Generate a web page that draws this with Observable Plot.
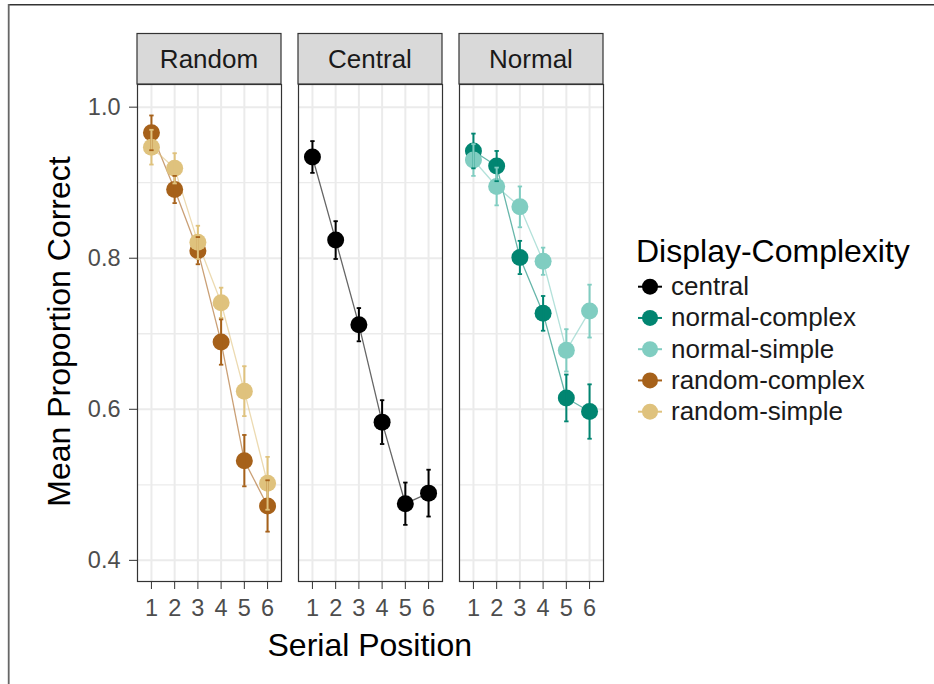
<!DOCTYPE html>
<html><head><meta charset="utf-8">
<script src="https://cdn.jsdelivr.net/npm/d3@7"></script>
<script src="https://cdn.jsdelivr.net/npm/@observablehq/plot@0.6"></script>
<style>
body{margin:0;background:#fff;font-family:"Liberation Sans",Arial,Helvetica,sans-serif;}
#root{position:relative;width:934px;height:684px;overflow:hidden;background:#fff;}
#root > svg{position:absolute;left:0;top:0;}
#root svg.main-chart g[aria-label$="tick label"]{font-size:23.5px !important;}
#root svg.main-chart g[aria-label$="tick label"] text{font-size:23.5px !important;}
</style></head><body><div id="root"></div>
<script>
// ---- data ----
const panels = ["Random", "Central", "Normal"];
const positions = [1, 2, 3, 4, 5, 6];
const yTicks = [0.4, 0.6, 0.8, 1.0];
const yMinorTicks = [0.5, 0.7, 0.9];
const seriesNames = ["central", "normal-complex", "normal-simple", "random-complex", "random-simple"];
const seriesPanels = ["Central", "Normal", "Normal", "Random", "Random"];
const seriesColors = ["#000000", "#018571", "#80CDC1", "#A6611A", "#DFC27D"];

const centralMean = [0.934, 0.824, 0.712, 0.583, 0.475, 0.489];
const centralSE = [0.021, 0.025, 0.022, 0.029, 0.028, 0.031];
const normalComplexMean = [0.942, 0.922, 0.801, 0.727, 0.615, 0.597];
const normalComplexSE = [0.023, 0.020, 0.022, 0.023, 0.031, 0.036];
const normalSimpleMean = [0.930, 0.895, 0.868, 0.796, 0.678, 0.730];
const normalSimpleSE = [0.021, 0.025, 0.027, 0.018, 0.028, 0.035];
const randomComplexMean = [0.966, 0.891, 0.810, 0.689, 0.532, 0.472];
const randomComplexSE = [0.023, 0.018, 0.018, 0.030, 0.034, 0.034];
const randomSimpleMean = [0.947, 0.919, 0.821, 0.741, 0.624, 0.502];
const randomSimpleSE = [0.023, 0.020, 0.022, 0.020, 0.033, 0.035];

const seriesMeans = [centralMean, normalComplexMean, normalSimpleMean, randomComplexMean, randomSimpleMean];
const seriesSE = [centralSE, normalComplexSE, normalSimpleSE, randomComplexSE, randomSimpleSE];

const rows = seriesNames.flatMap((s, i) => positions.map((p, j) => ({
  series: s, panel: seriesPanels[i], pos: p, mean: seriesMeans[i][j], se: seriesSE[i][j]
})));

const FONT = '"Liberation Sans", Arial, Helvetica, sans-serif';
const hline = {draw(ctx, size) { const w = Math.sqrt(size / Math.PI); ctx.moveTo(-w, 0); ctx.lineTo(w, 0); }};

const chart = Plot.plot({
  width: 620, height: 684,
  marginLeft: 136, marginRight: 16.5, marginTop: 84, marginBottom: 103,
  className: "main-chart",
  style: {fontFamily: FONT, fontSize: "23.5px", background: "transparent", color: "#4d4d4d"},
  fx: {domain: panels, paddingInner: 0.1035, paddingOuter: 0, axis: null, label: null},
  x: {domain: [0.4, 6.6], label: null},
  y: {domain: [0.372, 1.030], label: null},
  color: {domain: seriesNames, range: seriesColors},
  marks: [
    Plot.gridY(yMinorTicks, {stroke: "#ebebeb", strokeOpacity: 1, strokeWidth: 1.3}),
    Plot.gridY(yTicks, {stroke: "#ebebeb", strokeOpacity: 1, strokeWidth: 2}),
    Plot.gridX(positions, {stroke: "#ebebeb", strokeOpacity: 1, strokeWidth: 2}),
    Plot.axisY(yTicks, {tickFormat: d3.format(".1f"), tickSize: 8, tickPadding: 9, stroke: "#333", fill: "#4d4d4d", label: null, fontSize: 23.5}),
    Plot.axisX(positions, {tickFormat: d => String(d), tickSize: 8, tickPadding: 10, stroke: "#333", fill: "#4d4d4d", label: null, fontSize: 23.5}),
    Plot.line(rows, {fx: "panel", x: "pos", y: "mean", z: "series", stroke: "series", strokeWidth: 1.3, strokeOpacity: 0.6}),
    Plot.dot(rows, {fx: "panel", x: "pos", y: "mean", fill: "series", r: 8.5}),
    Plot.ruleX(rows, {fx: "panel", x: "pos", y1: d => d.mean - d.se, y2: d => d.mean + d.se, stroke: "series", strokeWidth: 2}),
    Plot.dot(rows, {fx: "panel", x: "pos", y: d => d.mean - d.se, stroke: "series", fill: "none", symbol: hline, r: 2.2, strokeWidth: 1.8}),
    Plot.dot(rows, {fx: "panel", x: "pos", y: d => d.mean + d.se, stroke: "series", fill: "none", symbol: hline, r: 2.2, strokeWidth: 1.8}),
    Plot.frame({stroke: "#333", strokeWidth: 1.2})
  ]
});

const root = document.getElementById("root");
root.appendChild(chart);

// overlay: strips, titles, legend, outer frame
const ov = d3.create("svg").attr("width", 934).attr("height", 684)
  .style("font-family", FONT).style("pointer-events", "none");

// outer frame (top & left edges)
ov.append("line").attr("x1", 8).attr("x2", 934).attr("y1", 4.7).attr("y2", 4.7).attr("stroke", "#333").attr("stroke-width", 1.6);
ov.append("line").attr("x1", 8.7).attr("x2", 8.7).attr("y1", 4).attr("y2", 684).attr("stroke", "#666").attr("stroke-width", 1.8);

// strips
const fxs = chart.scale("fx");
panels.forEach((p, i) => {
  const left = fxs.apply ? fxs.apply(p) : fxs.range[0] + fxs.paddingOuter * fxs.step + i * fxs.step;
  const bw = fxs.bandwidth;
  ov.append("rect").attr("x", left).attr("y", 33.5).attr("width", bw).attr("height", 50.5)
    .attr("fill", "#d9d9d9").attr("stroke", "#333").attr("stroke-width", 1.2);
  ov.append("text").attr("x", left + bw / 2).attr("y", 68).attr("text-anchor", "middle")
    .attr("font-size", 26).attr("fill", "#1a1a1a").text(p);
});

// axis titles
ov.append("text").attr("transform", "translate(70,331.5) rotate(-90)").attr("text-anchor", "middle")
  .attr("font-size", 32).attr("fill", "#000").text("Mean Proportion Correct");
ov.append("text").attr("x", 369.8).attr("y", 656).attr("text-anchor", "middle")
  .attr("font-size", 32).attr("fill", "#000").text("Serial Position");

// legend
ov.append("text").attr("x", 636).attr("y", 262).attr("font-size", 32).attr("fill", "#000").text("Display-Complexity");
seriesNames.forEach((s, i) => {
  const cy = 286.7 + i * 31.25;
  ov.append("line").attr("x1", 638).attr("x2", 662).attr("y1", cy).attr("y2", cy)
    .attr("stroke", seriesColors[i]).attr("stroke-width", 2);
  ov.append("circle").attr("cx", 650).attr("cy", cy).attr("r", 8).attr("fill", seriesColors[i]);
  ov.append("text").attr("x", 671).attr("y", cy + 8.5).attr("font-size", 26).attr("fill", "#1a1a1a").text(s);
});

root.appendChild(ov.node());
</script>
</body></html>
